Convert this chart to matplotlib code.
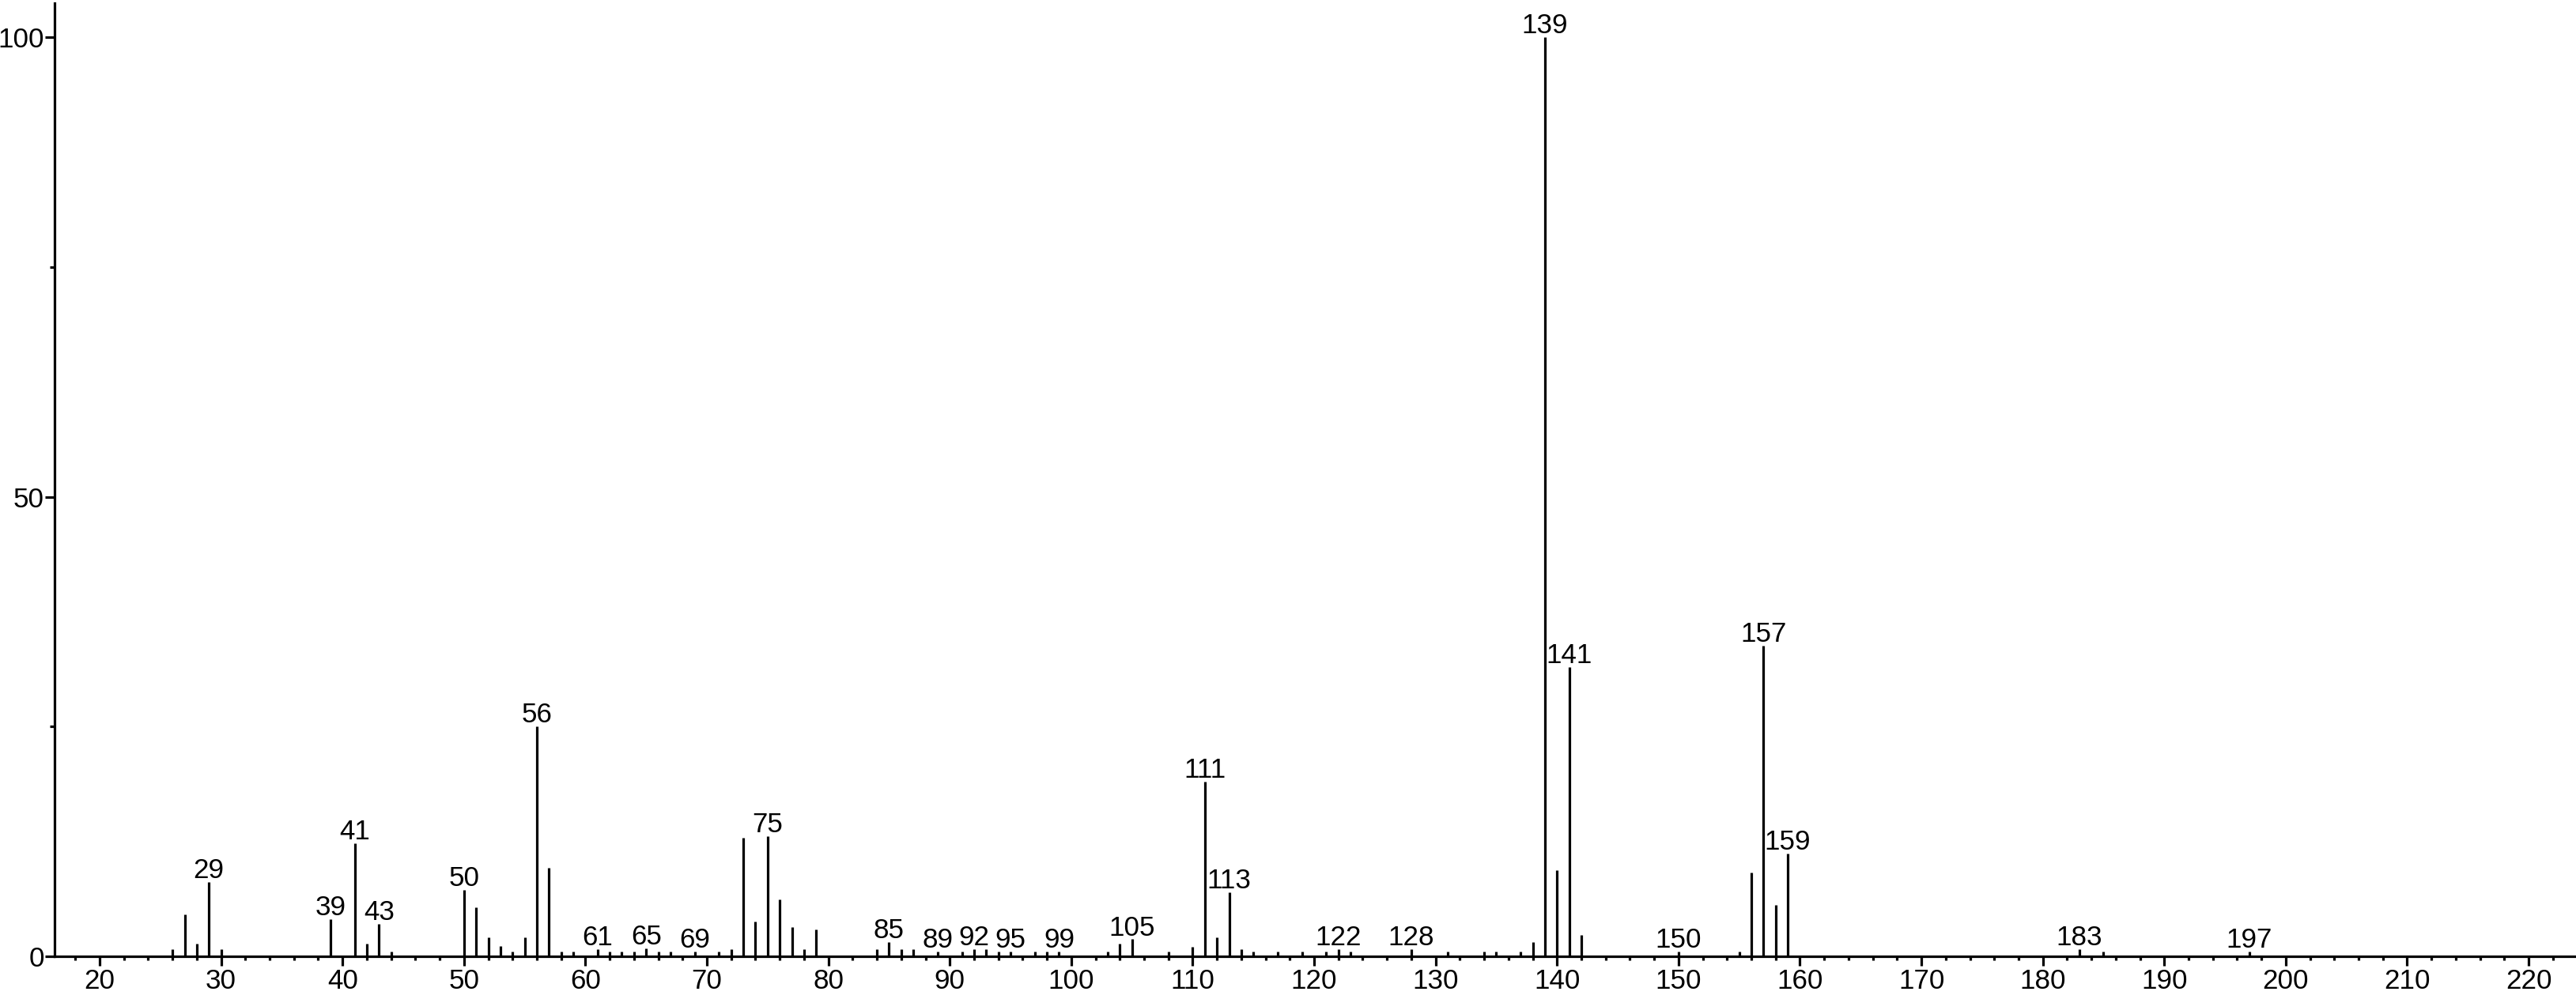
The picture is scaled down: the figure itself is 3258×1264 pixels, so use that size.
import matplotlib
matplotlib.use("Agg")
from matplotlib import pyplot as plt
from matplotlib.ticker import MultipleLocator, FixedLocator
import numpy as np

plt.rcParams['font.family'] = ['Liberation Sans', 'DejaVu Sans']

# peak list (m/z, relative intensity %)
mz = [26, 27, 28, 29, 30, 39, 41, 42, 43, 44,
      50, 51, 52, 53, 54, 55, 56, 57, 58, 59,
      61, 62, 63, 64, 65, 66, 67, 69, 71, 72,
      73, 74, 75, 76, 77, 78, 79, 84, 85, 86,
      87, 89, 91, 92, 93, 94, 95, 97, 98, 99,
      103, 104, 105, 108, 110, 111, 112, 113, 114, 115,
      117, 119, 121, 122, 123, 128, 131, 134, 135, 137,
      138, 139, 140, 141, 142, 150, 155, 156, 157, 158,
      159, 183, 185, 197]
intensity = [0.8, 4.6, 1.35, 8.1, 0.8, 4.05, 12.3, 1.35, 3.5, 0.55,
             7.2, 5.3, 2.1, 1.1, 0.55, 2.1, 25.0, 9.65, 0.55, 0.5,
             0.8, 0.5, 0.5, 0.55, 0.85, 0.5, 0.55, 0.5, 0.5, 0.8,
             12.9, 3.75, 13.1, 6.2, 3.2, 0.8, 2.9, 0.8, 1.55, 0.8,
             0.8, 0.5, 0.5, 0.8, 0.8, 0.55, 0.5, 0.5, 0.5, 0.5,
             0.5, 1.35, 1.85, 0.5, 1.05, 19.0, 2.1, 7.0, 0.8, 0.5,
             0.5, 0.5, 0.5, 0.8, 0.5, 0.8, 0.5, 0.5, 0.5, 0.5,
             1.55, 100.0, 9.4, 31.5, 2.35, 0.5, 0.5, 9.1, 33.8, 5.6,
             11.2, 0.8, 0.5, 0.5]

labeled = [29, 39, 41, 43, 50, 56, 61, 65, 69, 75, 85, 89, 92, 95, 99,
           105, 111, 113, 122, 128, 139, 141, 150, 157, 159, 183, 197]

W, H = 3258, 1264
fs = 25.2
fig = plt.figure(figsize=(W / 100, H / 100), dpi=100)
ax = fig.add_axes([69 / W, (H - 1210) / H, 1 - 69 / W, (1210 - 4) / H])

lw = 2.3
ax.vlines(mz, 0, intensity, color='black', lw=lw)

lookup = dict(zip(mz, intensity))
for m in labeled:
    ax.annotate(str(m), (m, lookup[m]), xytext=(0, 3.5), textcoords='offset points',
                ha='center', va='baseline', fontsize=fs)

ax.set_xlim(16.29, 223.9)
ax.set_ylim(0, 103.7)

for s in ['top', 'right']:
    ax.spines[s].set_visible(False)
for s in ['left', 'bottom']:
    ax.spines[s].set_linewidth(lw)

ax.xaxis.set_major_locator(MultipleLocator(10))
ax.xaxis.set_minor_locator(MultipleLocator(2))
ax.yaxis.set_major_locator(FixedLocator([0, 50, 100]))
ax.yaxis.set_minor_locator(FixedLocator([25, 75]))

ax.tick_params(axis='x', which='major', direction='out', length=8.6, width=lw,
               labelsize=fs, pad=2.5)
ax.tick_params(axis='x', which='minor', direction='out', length=3.6, width=lw)
ax.tick_params(axis='y', which='major', direction='out', length=8.6, width=lw,
               labelsize=fs, pad=1.0)
ax.tick_params(axis='y', which='minor', direction='out', length=4.3, width=lw)

fig.savefig('out.png', dpi=100)
